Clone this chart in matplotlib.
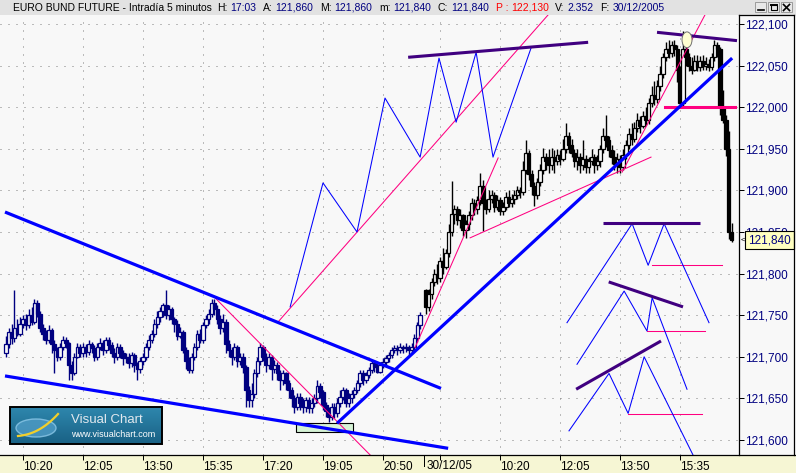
import numpy as np
import matplotlib
matplotlib.use("Agg")
import matplotlib.pyplot as plt
from matplotlib.patches import Rectangle, Ellipse
from matplotlib.ticker import FixedLocator, FuncFormatter

plt.rcParams["font.family"] = ["Liberation Sans", "DejaVu Sans"]

PRICE_BASE = 121.0   # all price lists are in thousandths above 121,000

# ---------------------------------------------------------------
# DATA  (5-minute bars, x = bar slot, 21 slots = 105 minutes)
# ---------------------------------------------------------------
day1_first_slot = -6
day1_first_open = 705
day1_close = [715, 730, 722, 735, 728, 740,
              745, 738, 750, 742, 765, 752, 735,
              728, 720, 732, 715, 708, 700, 712,
              720, 716, 690, 680, 700, 712, 705,
              712, 706, 715, 710, 700, 712, 716, 708, 720, 714, 705, 700, 712, 705,
              698, 700, 692, 702, 690, 685, 695,
              700, 712, 720, 728, 740, 748, 755,
              762, 750, 758, 745,
              740, 725, 730,
              708, 695, 684, 700,
              712, 728, 720, 738, 745,
              752, 765, 758, 745,
              735, 742, 715, 708,
              700, 712, 695, 700,
              688, 660, 648, 655,
              680, 695, 712, 700,
              690, 700, 685, 690,
              680, 672, 680, 668,
              660, 650, 640, 652, 645,
              640, 648, 638, 645, 650, 665, 658, 642,
              635, 628, 640, 632, 645,
              652, 660, 645, 650, 655, 660,
              668, 680, 672, 678, 684,
              692, 688, 682, 690, 694,
              698, 702, 708,
              710, 708, 712, 710, 712, 708, 712,
              722, 738, 750]
day1_high = [725, 735, 740, 780, 745, 748,
             750, 752, 758, 760, 770, 768, 755,
             740, 732, 738, 735, 720, 712, 716,
             725, 724, 718, 695, 704, 716, 715,
             716, 715, 720, 718, 714, 716, 722, 720, 724, 724, 718, 710, 716, 715,
             708, 705, 704, 706, 705, 694, 700,
             705, 716, 726, 732, 745, 755, 760,
             765, 780, 762, 760,
             748, 744, 736,
             732, 712, 700, 704,
             716, 732, 734, 742, 750,
             758, 770, 770, 762,
             750, 752, 745, 720,
             712, 716, 714, 705,
             704, 690, 665, 668,
             685, 700, 716, 714,
             704, 705, 702, 696,
             694, 684, 684, 682,
             672, 664, 654, 656, 656,
             650, 652, 652, 650, 655, 672, 668, 660,
             646, 640, 644, 644, 650,
             660, 664, 662, 656, 660, 664,
             672, 684, 684, 682, 688,
             696, 696, 694, 694, 698,
             702, 706, 712,
             714, 714, 716, 714, 716, 714, 716,
             728, 742, 754]
day1_low = [700, 710, 715, 718, 725, 725,
            735, 732, 735, 738, 740, 748, 730,
            720, 715, 716, 705, 680, 695, 696,
            708, 710, 672, 672, 678, 698, 700,
            700, 700, 702, 704, 695, 696, 708, 702, 704, 708, 700, 692, 696, 698,
            690, 692, 686, 688, 682, 672, 680,
            690, 696, 708, 716, 724, 735, 742,
            748, 746, 744, 740,
            730, 720, 722,
            704, 685, 680, 680,
            696, 708, 716, 716, 735,
            740, 748, 750, 740,
            728, 730, 704, 700,
            690, 696, 688, 690,
            680, 640, 640, 640,
            650, 676, 690, 695,
            682, 685, 672, 680,
            672, 660, 666, 660,
            650, 640, 632, 636, 636,
            632, 634, 632, 632, 640, 645, 650, 636,
            628, 622, 624, 626, 628,
            640, 648, 640, 640, 645, 650,
            656, 664, 666, 668, 674,
            680, 682, 680, 680, 686,
            690, 694, 698,
            704, 702, 704, 704, 706, 702, 704,
            708, 718, 734]

day2_first_slot = 141
day2_first_open = 780
day2_close = [760, 775, 790, 800, 795, 815, 808, 825, 850, 872,
              878, 865, 870, 852, 860, 870, 885, 878, 888, 905,
              885, 878, 890, 895, 880, 888, 875, 880, 892, 885,
              890, 895, 900, 898, 925, 945, 920, 905, 895, 910,
              925, 940, 935, 930, 940, 935, 942, 938, 950, 965,
              955, 945, 935, 940, 930, 938, 928, 935, 940, 930,
              935, 950, 965, 960, 948, 940, 932, 938, 928, 942,
              955, 968, 962, 975, 985, 978, 990, 985, 1005, 1015,
              1010, 1025, 1040, 1060, 1070, 1065, 1075, 1070, 1045, 1005,
              1070, 1060, 1050, 1045, 1055, 1048, 1055, 1050, 1052, 1048,
              1060, 1075, 1070, 1000, 985, 950, 850, 840]
day2_high = [782, 782, 795, 805, 812, 820, 831, 830, 860, 911,
             882, 881, 878, 872, 864, 875, 891, 890, 893, 921,
             912, 890, 901, 901, 898, 895, 892, 886, 898, 900,
             896, 901, 905, 904, 935, 961, 948, 925, 910, 915,
             932, 951, 945, 950, 951, 948, 950, 948, 962, 981,
             970, 962, 950, 950, 945, 961, 942, 940, 950, 944,
             942, 955, 975, 991, 965, 955, 948, 945, 942, 950,
             960, 975, 981, 982, 993, 990, 995, 1000, 1011, 1025,
             1031, 1033, 1050, 1065, 1078, 1081, 1080, 1081, 1075, 1050,
             1091, 1085, 1065, 1060, 1063, 1063, 1062, 1063, 1060, 1058,
             1065, 1081, 1078, 1072, 1021, 991, 971, 861]
day2_low = [752, 755, 770, 785, 788, 790, 800, 805, 820, 845,
            860, 858, 855, 845, 843, 852, 865, 870, 872, 882,
            851, 872, 874, 885, 874, 876, 870, 871, 876, 880,
            880, 884, 890, 891, 895, 920, 912, 895, 881, 890,
            905, 920, 925, 921, 925, 921, 930, 930, 935, 945,
            945, 940, 928, 925, 921, 925, 921, 921, 930, 921,
            924, 928, 945, 952, 940, 932, 925, 921, 921, 924,
            938, 950, 955, 958, 970, 969, 975, 979, 980, 1000,
            1003, 1005, 1019, 1035, 1055, 1059, 1060, 1062, 1030, 1000,
            1001, 1050, 1043, 1040, 1043, 1043, 1043, 1045, 1045, 1043,
            1045, 1055, 1060, 991, 981, 941, 841, 838]

# drawn studies: ((slot, price), (slot, price))
thick_blue_lines = [((-6.3, 874), (146.3, 662)),
                    ((-6.3, 677), (148.8, 590)),
                    ((109.9, 620), (248.2, 1059))]
pink_lines = [((66.9, 772), (121.5, 582)),
              ((89.3, 742), (183.8, 1111)),
              ((137.2, 711), (166.3, 939)),
              ((156.5, 843), (219.8, 940)),
              ((209.7, 922), (238.7, 1111)),
              ((220.0, 810), (244.7, 810)),
              ((218.4, 731), (238.7, 731)),
              ((211.8, 631), (237.7, 631))]
pink_thick_lines = [((224.7, 1000), (249.2, 1000))]
purple_lines = [((134.8, 1060), (197.8, 1078)),
                ((221.9, 1090), (249.9, 1080)),
                ((203.0, 861), (237.0, 861)),
                ((205.0, 790), (231.0, 760)),
                ((193.6, 661), (223.3, 719))]
zigzag_slots = [[93.5, 105, 116.9, 126.7, 139, 145.6, 151.6, 158.6, 164.5, 177.8],
                [190.4, 213.2, 218.8, 224.4, 240.1],
                [193.9, 210.4, 218.4, 220.2, 232.4],
                [191.1, 205.1, 211.8, 217.4, 234.5]]
zigzag_prices = [[760, 909, 850, 1011, 940, 1059, 982, 1066, 940, 1071],
                 [741, 860, 810, 860, 741],
                 [691, 779, 731, 771, 661],
                 [611, 680, 632, 700, 582]]
box_slots = (95.6, 115.5)
box_prices = (610, 620)
circle_center = (232.4, 1081)

price_ticks = [600, 650, 700, 750, 800, 850, 900, 950, 1000, 1050, 1100]
time_tick_slots = [0, 21, 42, 63, 84, 105, 126, 146, 167, 188, 209, 230]
time_tick_labels = ["10:20", "12:05", "13:50", "15:35", "17:20", "19:05", "20:50",
                    "", "10:20", "12:05", "13:50", "15:35"]
day_break_slot = 140.5
day_break_label = "30/12/05"
last_price = 840

title_main = "EURO BUND FUTURE - Intradía 5 minutos"
title_labels = ["H:", "A:", "M:", "m:", "C:", "P :", "V:", "F:"]
title_values = ["17:03", "121,860", "121,860", "121,840", "121,840", "122,130",
                "2.352", "30/12/2005"]


def px(v):
    return PRICE_BASE + np.asarray(v, dtype=float) / 1000.0


PLOT_BG = "#f8f8f8"
DX = 60 / 21          # pixels per slot
W, H = 796, 473

fig = plt.figure(figsize=(W / 100, H / 100), dpi=100)

# --- background chrome (pixel coordinates) ---
bg = fig.add_axes([0, 0, 1, 1], zorder=0)
bg.set_xlim(0, W)
bg.set_ylim(H, 0)
bg.axis("off")
bg.add_patch(Rectangle((0, 0), W, 15, fc="#e2e2e2", ec="none"))
bg.add_patch(Rectangle((0, 455), W, 18, fc="#f6f6d4", ec="none"))
bg.add_patch(Rectangle((739, 15), 55, 440, fc=PLOT_BG, ec="none"))

# --- main chart ---
ax = fig.add_axes([0, 18 / H, 739 / W, 440 / H], zorder=1)
ax.set_facecolor(PLOT_BG)
ax.set_xlim(-23 / DX, (739 - 23) / DX)
ax.set_ylim(px(600) - 15 * 0.05 / 41.6, px(1100) + 9 * 0.05 / 41.6)
for sp in ax.spines.values():
    sp.set_visible(False)

ax.yaxis.tick_right()
ax.yaxis.set_major_locator(FixedLocator(px(price_ticks)))
ax.yaxis.set_major_formatter(FuncFormatter(lambda v, _: f"{v:.3f}".replace(".", ",")))
ax.tick_params(axis="y", direction="out", length=3.6, width=0.72, colors="black",
               labelcolor="#000080", labelsize=8.5, pad=1)
ax.set_xticks(time_tick_slots)
ax.set_xticklabels(time_tick_labels)
ax.tick_params(axis="x", direction="out", length=3.6, width=0.72, colors="black",
               labelsize=8.5, pad=1)
for lbl in ax.get_xticklabels():
    lbl.set_horizontalalignment("left")
ax.grid(True, color="#808080", linestyle=(0, (1, 7)), linewidth=0.72, zorder=0)
ax.set_axisbelow(True)

# day separator
ax.plot([day_break_slot, day_break_slot], [0, -0.025], color="black", lw=0.72,
        transform=ax.get_xaxis_transform(), clip_on=False)
ax.text(day_break_slot + 0.8, -0.0115, day_break_label, fontsize=8.5, ha="left", va="top",
        transform=ax.get_xaxis_transform())

BODY_W = 1.2


def draw_bars(first_slot, first_open, closes, highs, lows, color):
    opens = [first_open] + list(closes[:-1])
    for k, (o, h, l, c) in enumerate(zip(opens, highs, lows, closes)):
        s = first_slot + k
        ax.plot([s, s], px([l, h]), color=color, lw=1.0, zorder=2, solid_capstyle="butt")
        lo, hi = min(o, c), max(o, c)
        if hi - lo < 1:
            ax.plot([s - BODY_W / 2, s + BODY_W / 2], px([c, c]), color=color, lw=1.0, zorder=2)
        else:
            ax.add_patch(Rectangle((s - BODY_W / 2, px(lo)), BODY_W, px(hi) - px(lo),
                                   facecolor=color if c < o else PLOT_BG,
                                   edgecolor=color, lw=0.9, zorder=2))


draw_bars(day1_first_slot, day1_first_open, day1_close, day1_high, day1_low, "#000080")
draw_bars(day2_first_slot, day2_first_open, day2_close, day2_high, day2_low, "black")

# studies
ax.add_patch(Rectangle((box_slots[0], px(box_prices[0])), box_slots[1] - box_slots[0],
                       px(box_prices[1]) - px(box_prices[0]),
                       fc="#d6f3d6", ec="black", lw=0.8, zorder=3))
for (x0, y0), (x1, y1) in pink_lines:
    ax.plot([x0, x1], px([y0, y1]), color="#ff0080", lw=0.75, zorder=4)
for (x0, y0), (x1, y1) in pink_thick_lines:
    ax.plot([x0, x1], px([y0, y1]), color="#ff0080", lw=2.2, zorder=4)
for xs, ys in zip(zigzag_slots, zigzag_prices):
    ax.plot(xs, px(ys), color="#0000ff", lw=0.75, zorder=4)
for (x0, y0), (x1, y1) in thick_blue_lines:
    ax.plot([x0, x1], px([y0, y1]), color="#0000ff", lw=2.3, zorder=5,
            solid_capstyle="butt")
for (x0, y0), (x1, y1) in purple_lines:
    ax.plot([x0, x1], px([y0, y1]), color="#400080", lw=2.2, zorder=5,
            solid_capstyle="butt")
ax.add_patch(Ellipse((circle_center[0], px(circle_center[1])), 3.5, 0.019,
                     fc="#ffffd2", ec="#707070", lw=0.7, zorder=6))

# last price marker
ax.annotate(f"{px(last_price):.3f}".replace(".", ","), xy=(1, px(last_price)),
            xycoords=("axes fraction", "data"), xytext=(9, 0), textcoords="offset pixels",
            ha="left", va="center", fontsize=8.5, color="#000080", annotation_clip=False,
            bbox=dict(boxstyle="square,pad=0.25", fc="#ffffc0", ec="black", lw=0.8),
            zorder=10)
ax.annotate("<", xy=(1, px(last_price)), xycoords=("axes fraction", "data"),
            xytext=(2, 0), textcoords="offset pixels", ha="left", va="center",
            fontsize=6, color="black", annotation_clip=False, zorder=10)

# --- foreground chrome ---
fg = fig.add_axes([0, 0, 1, 1], zorder=3)
fg.set_xlim(0, W)
fg.set_ylim(H, 0)
fg.axis("off")
fg.patch.set_alpha(0)
fg.plot([0, W], [455, 455], color="black", lw=0.9)
fg.plot([739, 739], [15, 455], color="black", lw=0.9)
fg.plot([794, 794], [15, 455], color="black", lw=0.9)
fg.plot([739, 794], [15, 15], color="black", lw=0.9)

# title line, pieces placed one after another
renderer = fig.canvas.get_renderer()
cur_x = 13
t = fg.text(cur_x, 8, title_main, color="black", fontsize=7.5, ha="left", va="center")
cur_x += t.get_window_extent(renderer).width + 5
for lab, val in zip(title_labels, title_values):
    is_p = lab.startswith("P")
    t = fg.text(cur_x, 8, lab, color="red" if is_p else "black", fontsize=7.5,
                ha="left", va="center")
    cur_x += t.get_window_extent(renderer).width + 3
    t = fg.text(cur_x, 8, val, color="red" if is_p else "#000080", fontsize=7.5,
                ha="left", va="center")
    cur_x += t.get_window_extent(renderer).width + 6.5

# window buttons
for bx in (755, 768, 781):
    fg.add_patch(Rectangle((bx, 2.5), 11, 10, fc="#e8e8e8", ec="#909090", lw=0.6))
fg.plot([757.5, 763.5], [10.5, 10.5], color="black", lw=1.2)
fg.add_patch(Rectangle((770.5, 5), 6, 5.5, fc="none", ec="black", lw=0.8))
fg.plot([770.5, 776.5], [5.3, 5.3], color="black", lw=1.4)
fg.plot([783.5, 789.5], [4.5, 10.5], color="black", lw=1.2)
fg.plot([783.5, 789.5], [10.5, 4.5], color="black", lw=1.2)

# Visual Chart logo
grad = np.linspace(0, 1, 40)[:, None] * np.ones((1, 2))
c_top = np.array([0.18, 0.53, 0.68])
c_bot = np.array([0.10, 0.38, 0.52])
img = c_top[None, None, :] * (1 - grad[..., None]) + c_bot[None, None, :] * grad[..., None]
fg.imshow(img, extent=[10, 162, 444, 407], aspect="auto", zorder=4, interpolation="bilinear")
fg.add_patch(Rectangle((10, 407), 152, 37, fc="none", ec="black", lw=1.4, zorder=5))
fg.add_patch(Ellipse((36, 428), 40, 18, fc="#4f9cc6", ec="#8cc8e8", lw=1.0, alpha=0.8, zorder=5))
sw_t = np.linspace(0, 1, 20)
fg.plot(18 + 40 * sw_t, 436 - 4 * sw_t - 18 * sw_t ** 2.2, color="#f2cf2a", lw=1.6, zorder=6)
fg.text(71, 419.5, "Visual Chart", fontsize=9.5, color="#e2e9ef", ha="left", va="center",
        zorder=6)
fg.text(71, 434.5, "www.visualchart.com", fontsize=6.5, color="white", ha="left",
        va="center", zorder=6)

fig.savefig("out.png", dpi=100)
